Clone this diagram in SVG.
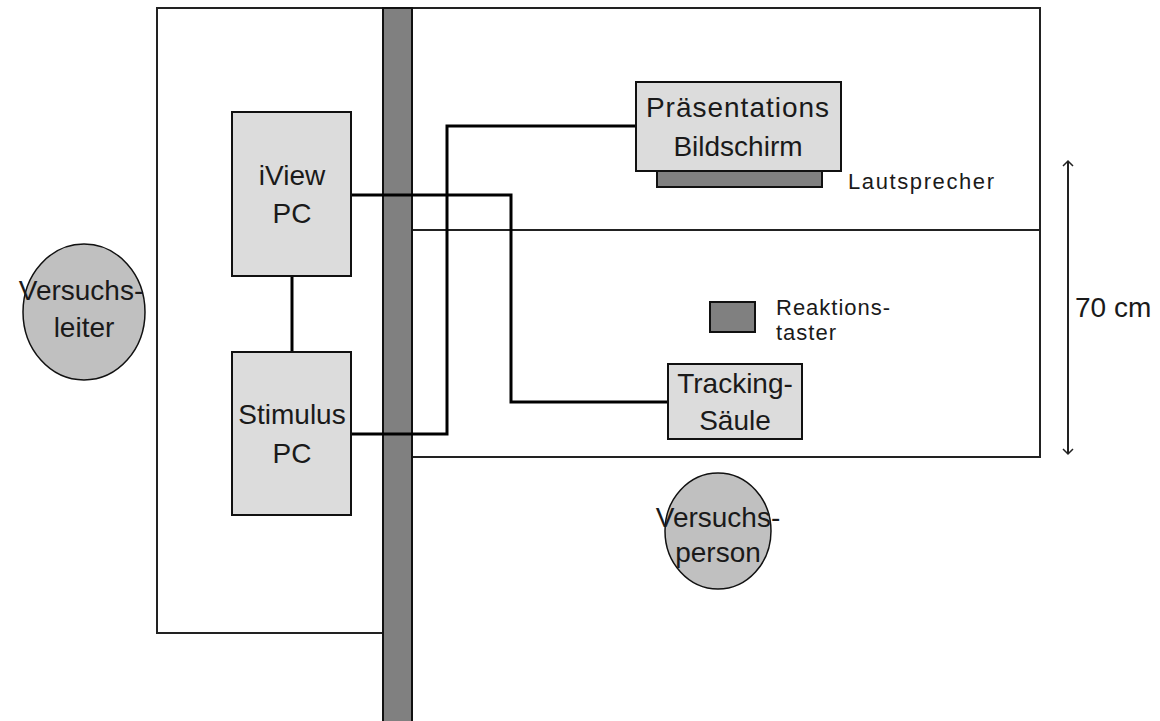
<svg xmlns="http://www.w3.org/2000/svg" width="1160" height="721" viewBox="0 0 1160 721">
<defs>
<style>
.room{fill:none;stroke:#222;stroke-width:2}
.box{fill:#dcdcdc;stroke:#111;stroke-width:2}
.dark{fill:#808080;stroke:#111;stroke-width:2}
.ell{fill:#c0c0c0;stroke:#111;stroke-width:1.5}
.wire{fill:none;stroke:#000;stroke-width:3}
.big{font-family:"Liberation Sans",Arial,sans-serif;font-size:28px;fill:#1a1a1a;text-anchor:middle}
.small{font-family:"Liberation Sans",Arial,sans-serif;font-size:22px;fill:#1a1a1a;letter-spacing:1px}
</style>
<marker id="arr" markerWidth="12" markerHeight="12" refX="7" refY="6" orient="auto-start-reverse" markerUnits="userSpaceOnUse" viewBox="0 0 12 12">
<path d="M2,1 L7,6 L2,11" fill="none" stroke="#222" stroke-width="1.5"/>
</marker>
</defs>
<rect width="1160" height="721" fill="#fff"/>
<g id="rooms">
<path class="room" d="M383,8 L157,8 L157,633 L383,633"/>
<path class="room" d="M412,8 L1040,8 L1040,457 L412,457"/>
<line class="room" x1="412" y1="230" x2="1040" y2="230"/>
</g>
<g id="wall">
<rect x="383" y="8" width="29" height="720" fill="#808080" stroke="#111" stroke-width="2"/>
</g>
<g id="connectors">
<line class="wire" x1="292" y1="276" x2="292" y2="352"/>
<polyline class="wire" points="351,195 511,195 511,402 668,402"/>
<polyline class="wire" points="351,434 447,434 447,126 636,126"/>
</g>
<g id="iview">
<rect class="box" x="232" y="112" width="119" height="164"/>
<text class="big" x="292" y="185">iView</text>
<text class="big" x="292" y="223">PC</text>
</g>
<g id="stimulus">
<rect class="box" x="232" y="352" width="119" height="163"/>
<text class="big" x="292" y="424">Stimulus</text>
<text class="big" x="292" y="463">PC</text>
</g>
<g id="lautsprecher">
<rect class="dark" x="657" y="171" width="165" height="16"/>
<text class="small" x="848" y="189" style="letter-spacing:1.6px">Lautsprecher</text>
</g>
<g id="praesentation">
<rect class="box" x="636" y="82" width="205" height="89"/>
<text class="big" x="738" y="117" letter-spacing="1">Präsentations</text>
<text class="big" x="738" y="156">Bildschirm</text>
</g>
<g id="reaktionstaster">
<rect class="dark" x="710" y="302" width="45" height="30"/>
<text class="small" x="776" y="315">Reaktions-</text>
<text class="small" x="776" y="340">taster</text>
</g>
<g id="tracking">
<rect class="box" x="668" y="364" width="134" height="75"/>
<text class="big" x="735" y="393">Tracking-</text>
<text class="big" x="735" y="430">Säule</text>
</g>
<g id="versuchsleiter">
<ellipse class="ell" cx="84" cy="312" rx="61" ry="68"/>
<text class="big" x="81" y="300">Versuchs-</text>
<text class="big" x="84" y="337">leiter</text>
</g>
<g id="versuchsperson">
<ellipse class="ell" cx="718" cy="531" rx="53" ry="58"/>
<text class="big" x="718" y="527">Versuchs-</text>
<text class="big" x="718" y="562">person</text>
</g>
<g id="dimension">
<line x1="1068" y1="161" x2="1068" y2="454" stroke="#222" stroke-width="2" marker-start="url(#arr)" marker-end="url(#arr)"/>
<text class="big" x="1075" y="317" style="text-anchor:start">70 cm</text>
</g>
</svg>
